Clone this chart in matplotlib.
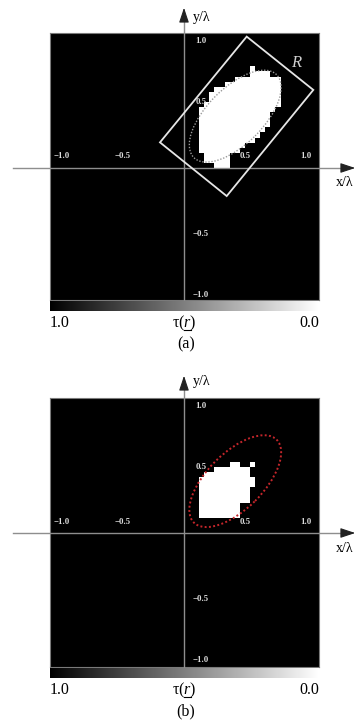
import numpy as np
import matplotlib
matplotlib.use("Agg")
import matplotlib.pyplot as plt
from matplotlib.patches import Polygon, Ellipse
from matplotlib.lines import Line2D

plt.rcParams["mathtext.fontset"] = "custom"
plt.rcParams["mathtext.rm"] = "Liberation Serif"
plt.rcParams["mathtext.it"] = "Liberation Serif:italic"

# ---------------------------------------------------------------- data
CELL = 1.0 / 24.0          # pixel size of the reconstruction grid (in λ)
GRID_N = 24                # grid covers 0 .. 1 λ in x and y

# reconstructed support, rows given as (row, first column, last column)
BLOB_A_ROWS = [(0, 6, 8), (1, 4, 8), (2, 4, 8), (3, 3, 10), (4, 3, 11),
               (5, 3, 13), (6, 3, 14), (7, 3, 15), (8, 3, 16), (9, 3, 16),
               (10, 3, 16), (11, 3, 17), (12, 4, 18), (13, 5, 18),
               (14, 5, 18), (15, 6, 18), (16, 8, 18), (17, 10, 18),
               (18, 13, 16), (19, 13, 13)]
BLOB_B_ROWS = [(3, 3, 10), (4, 3, 10), (5, 3, 10), (6, 3, 12), (7, 3, 12),
               (8, 3, 12), (9, 3, 13), (10, 3, 13), (11, 4, 12),
               (12, 6, 12), (13, 9, 10), (13, 13, 13)]

# investigation domain R (corners, in λ)
RECT_R = [(-0.197, 0.21), (0.514, 1.077), (1.06, 0.64), (0.35, -0.23)]

# actual scatterer contour (ellipse, in λ)
ELL_CENTER = (0.42, 0.425)
ELL_AXES = (0.96, 0.46)
ELL_ANGLE = 45.0

TICK_VALUES = [-1.0, -0.5, 0.5, 1.0]
TICK_TEXT = ["\u22121.0", "\u22120.5", "0.5", "1.0"]
CBAR_LEFT, CBAR_RIGHT = "1.0", "0.0"
CBAR_PREFIX, CBAR_VAR, CBAR_SUFFIX = "\u03c4(", "$r$", ")"

# ---------------------------------------------------------------- layout
W, H = 359, 721
U = 122.0                  # pixels per λ
SERIF = ["Liberation Serif", "DejaVu Serif"]
AXIS_GRAY = "#8e8e8e"
FS = 11.5

fig = plt.figure(figsize=(W / 100, H / 100), dpi=100)
fig.patch.set_facecolor("white")


def px_axes(x0, y0, x1, y1):
    return fig.add_axes([x0 / W, 1 - y1 / H, (x1 - x0) / W, (y1 - y0) / H])


def mask_from_rows(rows):
    m = np.zeros((GRID_N, GRID_N))
    for j, i0, i1 in rows:
        m[j, i0:i1 + 1] = 1.0
    return m


def text_width(s, rend):
    tmp = fig.text(0, 0, s, fontsize=FS, family=SERIF)
    w = tmp.get_window_extent(rend).width
    tmp.remove()
    return w


def panel(top, bottom, cy, ytip, rows, ell_color, ell_lw, show_rect, letter,
          xlab_y):
    cx = 184.0
    ax = px_axes(50, top, 319, bottom)
    ax.set_facecolor("black")
    ax.set_xlim((50 - cx) / U, (319 - cx) / U)
    ax.set_ylim((cy - bottom) / U, (cy - top) / U)
    ax.set_xticks([])
    ax.set_yticks([])
    for s in ax.spines.values():
        s.set_color("#7a7a7a")
        s.set_linewidth(0.8)

    # reconstructed contrast map
    ax.imshow(mask_from_rows(rows), extent=(0, GRID_N * CELL, 0, GRID_N * CELL),
              origin="lower", cmap="gray", vmin=0, vmax=1,
              interpolation="nearest", zorder=2)

    # coordinate axes with arrow heads
    ylo = (cy - bottom) / U
    ax.plot([-1.40, 1.36], [0, 0], color=AXIS_GRAY, lw=1.0, clip_on=False,
            zorder=3)
    ax.plot([0, 0], [ylo, ytip - 0.06], color=AXIS_GRAY, lw=1.0,
            clip_on=False, zorder=3)
    head = "-|>,head_length=0.9,head_width=0.3"
    ax.annotate("", xy=(1.426, 0), xytext=(1.30, 0),
                arrowprops=dict(arrowstyle=head, color="#222222", lw=0.8,
                                mutation_scale=10),
                annotation_clip=False)
    ax.annotate("", xy=(0, ytip), xytext=(0, ytip - 0.12),
                arrowprops=dict(arrowstyle=head, color="#222222", lw=0.8,
                                mutation_scale=10),
                annotation_clip=False)

    # tick labels
    for v, t in zip(TICK_VALUES, TICK_TEXT):
        ax.text(v, xlab_y, t, color="#dcdcdc", fontsize=6.3,
                fontweight="bold", family=SERIF, ha="center", va="center",
                zorder=5)
        ax.text(0.14, v + (0.04 if v > 0 else -0.04), t, color="#dcdcdc",
                fontsize=6.3, fontweight="bold", family=SERIF, ha="center",
                va="center", zorder=5)

    ax.add_patch(Ellipse(ELL_CENTER, ELL_AXES[0], ELL_AXES[1],
                         angle=ELL_ANGLE, fill=False, ec=ell_color,
                         lw=ell_lw, ls=(0, (1, 1.2)), zorder=4))
    if show_rect:
        ax.add_patch(Polygon(RECT_R, closed=True, fill=False, ec="#e6e6e6",
                             lw=1.3, zorder=4))
        ax.text(0.92, 0.86, "R", color="#d0d0d0", fontsize=12,
                style="italic", family=SERIF, ha="center", va="center",
                zorder=5)

    # axis names
    fig.text(202 / W, 1 - (top - 16) / H, "y/\u03bb", fontsize=10,
             family=SERIF, ha="center", va="center")
    fig.text(345 / W, 1 - (cy + 15) / H, "x/\u03bb", fontsize=10,
             family=SERIF, ha="center", va="center")

    # gray-level bar
    cax = px_axes(50, bottom + 1, 319, bottom + 11)
    cax.imshow(np.linspace(0, 1, 256)[None, :], cmap="gray", aspect="auto",
               extent=(0, 1, 0, 1))
    cax.set_xticks([])
    cax.set_yticks([])
    for s in cax.spines.values():
        s.set_visible(False)

    ly = bottom + 23
    fig.text(50 / W, 1 - ly / H, CBAR_LEFT, fontsize=FS, family=SERIF,
             ha="left", va="center")
    fig.text(319 / W, 1 - ly / H, CBAR_RIGHT, fontsize=FS, family=SERIF,
             ha="right", va="center")

    # τ(r) with the italic r underlined
    rend = fig.canvas.get_renderer()
    label = fig.text(184 / W, 1 - ly / H, CBAR_PREFIX + CBAR_VAR + CBAR_SUFFIX,
                     fontsize=FS, family=SERIF, ha="center", va="center")
    bb = label.get_window_extent(rend)
    w_pre = text_width(CBAR_PREFIX, rend)
    w_var = text_width(CBAR_VAR, rend)
    x0 = bb.x0 + w_pre
    yb = H - ly - 6.5
    fig.add_artist(Line2D([(x0 + 0.3) / W, (x0 + w_var - 0.3) / W],
                          [yb / H, yb / H], color="black", lw=0.8,
                          transform=fig.transFigure))

    fig.text(186 / W, 1 - (bottom + 44) / H, letter, fontsize=FS,
             family=SERIF, ha="center", va="center")
    return ax


panel(33, 300, 168, (168 - 5) / U, BLOB_A_ROWS, "#9a9a9a", 1.0, True,
      "(a)", 0.10)
panel(398, 667, 533, (533 - 373) / U, BLOB_B_ROWS, "#c4262b", 1.4, False,
      "(b)", 0.09)

fig.savefig("out.png", dpi=100, facecolor="white")
